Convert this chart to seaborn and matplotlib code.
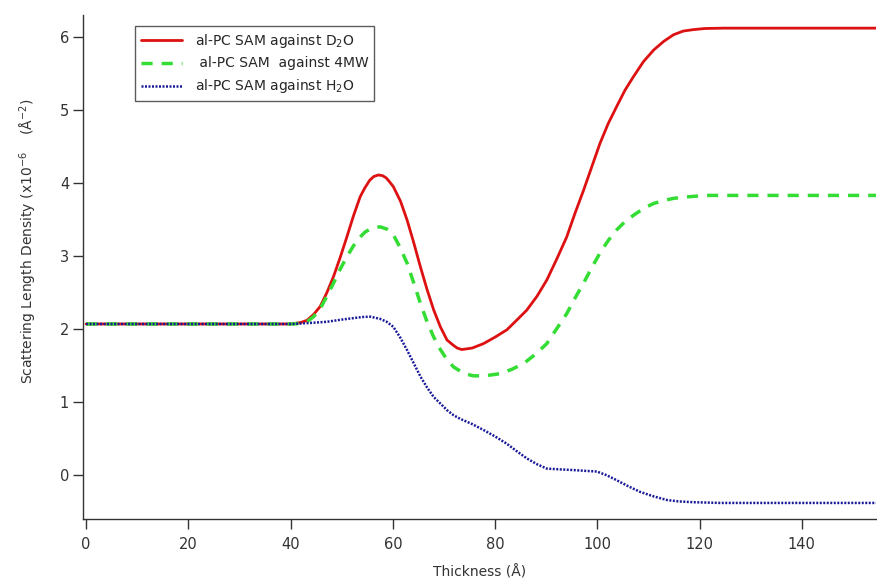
import numpy as np
import pandas as pd
import matplotlib
matplotlib.use("Agg")
import matplotlib.pyplot as plt
import seaborn as sns

# ---- data ----
d2o_x = [0, 40, 42.0, 43.2, 44.5, 45.8, 47.1, 48.4, 49.7, 51.0, 52.3, 53.6, 54.5, 55.5, 56.3,
         57.2, 58.0, 58.7, 59.2, 60.1, 61.5, 62.8, 64.1, 65.4, 66.7, 68.0, 69.3, 70.6,
         71.8, 72.6, 73.5, 75.5, 77.7, 80.0, 82.3, 84.2, 86.2, 88.2, 90.1, 92.0, 94.0,
         95.6, 97.3, 98.9, 100.5, 102.1, 103.8, 105.4, 107.1, 109.0, 111.0, 113.0, 114.9,
         116.8, 118.8, 121.0, 124.7, 154.6]
d2o_y = [2.07, 2.07, 2.09, 2.12, 2.20, 2.31, 2.50, 2.72, 2.98, 3.26, 3.55, 3.81, 3.93, 4.04, 4.09,
         4.11, 4.10, 4.07, 4.03, 3.95, 3.75, 3.49, 3.18, 2.85, 2.54, 2.26, 2.03, 1.85,
         1.78, 1.74, 1.72, 1.74, 1.80, 1.89, 1.99, 2.12, 2.26, 2.45, 2.67, 2.95, 3.26,
         3.58, 3.90, 4.22, 4.54, 4.81, 5.05, 5.27, 5.46, 5.66, 5.82, 5.94, 6.03,
         6.08, 6.10, 6.115, 6.12, 6.12]

mw4_x = [0, 40.5, 42.0, 43.2, 44.5, 45.8, 47.1, 48.4, 49.7, 51.0, 52.3, 53.6, 54.6, 55.6,
         56.5, 57.5, 58.8, 60.1, 61.4, 62.8, 64.1, 65.4, 66.7, 68.0, 69.3, 70.6, 71.9,
         74.0, 75.8, 78.0, 81.0, 83.3, 85.6, 87.8, 90.1, 92.0, 94.0, 95.6, 97.3, 98.9,
         100.5, 102.1, 103.8, 105.4, 107.1, 109.0, 111.0, 113.0, 114.9, 117.5, 121.4, 154.6]
mw4_y = [2.07, 2.07, 2.08, 2.10, 2.17, 2.28, 2.45, 2.63, 2.82, 2.99, 3.14, 3.26, 3.33, 3.37,
         3.39, 3.40, 3.37, 3.29, 3.12, 2.90, 2.63, 2.35, 2.10, 1.89, 1.72, 1.58, 1.48,
         1.39, 1.36, 1.36, 1.39, 1.45, 1.53, 1.65, 1.80, 2.00, 2.21, 2.42, 2.63, 2.84,
         3.04, 3.21, 3.36, 3.47, 3.56, 3.65, 3.72, 3.76, 3.79, 3.81, 3.83, 3.83]

h2o_x = [0, 40.5, 44.0, 47.1, 50.0, 52.3, 54.0, 55.6, 57.5, 58.8, 60.1, 61.4, 62.8, 64.1,
         65.4, 66.7, 68.0, 69.3, 70.6, 71.9, 73.2, 75.5, 77.7, 80.0, 82.3, 84.2, 86.2,
         88.2, 90.1, 92.5, 95.3, 97.5, 99.9, 101.8, 103.8, 106.0, 108.4, 111.0, 113.6,
         116.0, 118.8, 124.0, 154.6]
h2o_y = [2.07, 2.07, 2.085, 2.10, 2.13, 2.15, 2.165, 2.17, 2.14, 2.10, 2.03, 1.89, 1.71, 1.53,
         1.35, 1.20, 1.07, 0.98, 0.89, 0.82, 0.77, 0.70, 0.62, 0.53, 0.43, 0.33, 0.23,
         0.15, 0.09, 0.08, 0.07, 0.06, 0.05, 0.00, -0.07, -0.15, -0.23, -0.29, -0.34,
         -0.36, -0.37, -0.38, -0.38]

labels = ["al-PC SAM against D$_2$O", " al-PC SAM  against 4MW", "al-PC SAM against H$_2$O"]
x_ticks = [0, 20, 40, 60, 80, 100, 120, 140]
y_ticks = [0, 1, 2, 3, 4, 5, 6]

sns.set_theme(style="ticks")
plt.rcParams["font.family"] = ["DejaVu Sans"]

fig = plt.figure(figsize=(8.77, 5.83), dpi=100)
ax = fig.add_axes([83 / 877, 64 / 583, 793 / 877, 504 / 583])

df1 = pd.DataFrame({"x": d2o_x, "y": d2o_y})
df2 = pd.DataFrame({"x": mw4_x, "y": mw4_y})
df3 = pd.DataFrame({"x": h2o_x, "y": h2o_y})

sns.lineplot(data=df1, x="x", y="y", ax=ax, color="#dd1111", linewidth=2.0,
             label=labels[0], sort=False, estimator=None)
sns.lineplot(data=df2, x="x", y="y", ax=ax, color="#33dd33", linewidth=2.5,
             linestyle=(0, (3.2, 2.6)), label=labels[1], sort=False, estimator=None)
sns.lineplot(data=df3, x="x", y="y", ax=ax, color="#1a1a99", linewidth=1.8,
             linestyle=(0, (0.8, 0.6)), label=labels[2], sort=False, estimator=None)

ax.set_xlim(-0.6, 154.5)
ax.set_ylim(-0.6, 6.30)
ax.set_xticks(x_ticks)
ax.set_yticks(y_ticks)
ax.set_xlabel("Thickness (Å)", fontsize=10, color="#333333", labelpad=9)
ax.set_ylabel("Scattering Length Density (x10$^{-6}$    (Å$^{-2}$)", fontsize=10,
              color="#333333")
ax.yaxis.set_label_coords(-0.056, 0.55)

for s in ["top", "right"]:
    ax.spines[s].set_visible(False)
for s in ["left", "bottom"]:
    ax.spines[s].set_color("#333333")
    ax.spines[s].set_linewidth(1.0)
ax.tick_params(axis="both", direction="out", length=7, width=1.0, color="#333333",
               labelsize=10.5, labelcolor="#333333")
ax.tick_params(axis="y", pad=3)
ax.tick_params(axis="x", pad=6)

leg = ax.legend(loc="upper left", bbox_to_anchor=(135 / 877, 1 - 26 / 583),
                bbox_transform=fig.transFigure, borderaxespad=0, frameon=True,
                fancybox=False, fontsize=10, handlelength=3.0, labelspacing=0.5,
                borderpad=0.4, handletextpad=0.9)
leg.get_frame().set_edgecolor("#333333")
leg.get_frame().set_linewidth(1.0)

fig.savefig("out.png", dpi=100)
